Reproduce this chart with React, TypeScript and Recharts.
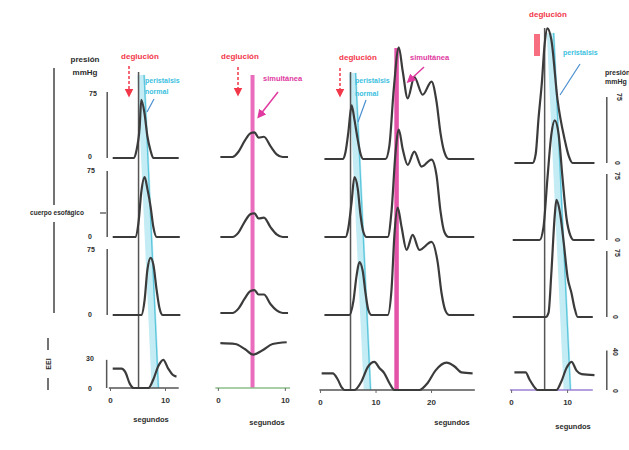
import React from "react";
import { LineChart, Line, XAxis, YAxis, ReferenceLine } from "recharts";

// pressure scale of the traces (pixels per mmHg)
const PX = 0.88;
const ROW_H = 170;
const LES_H = 55;

// ---- panel 1: normal swallow ----
const p1Ticks = [0, 10];
const p1T1 = [0.4, 4.2, 4.7, 5.3, 5.6, 6.2, 6.7, 7.3, 7.8, 12.4];
const p1V1 = [0, 0, 8, 35, 66, 50, 25, 8, 0, 0];
const p1T2 = [0.4, 4.5, 5.1, 5.6, 6.2, 6.7, 7.3, 7.8, 8.4, 12.6];
const p1V2 = [0, 0, 17, 51, 68, 55, 34, 11, 0, 0];
const p1T3 = [0.4, 5.6, 6.2, 6.7, 7.3, 7.8, 8.4, 8.9, 9.5, 12.7];
const p1V3 = [0, 0, 17, 51, 65, 57, 28, 8, 0, 0];
const p1TL = [0.4, 2.0, 2.7, 3.5, 4.2, 6.9, 7.8, 8.7, 9.6, 10.5, 11.3, 12.0];
const p1VL = [22, 22, 18, 5, 0, 0, 10, 25, 32, 22, 15, 13];
const p1Swallow = 5.1;
const p1Band = [5.6, 8.2];

// ---- panel 2: simultaneous contraction ----
const p2Ticks = [0, 10];
const p2T = [0.3, 2.1, 3.0, 3.9, 4.8, 5.4, 6.0, 6.8, 7.8, 8.7, 9.6, 10.4];
const p2V1 = [0, 0, 6, 18, 27, 28, 22, 23, 12, 3, 0, 0];
const p2V2 = [0, 0, 5, 17, 26, 27, 21, 22, 11, 3, 0, 0];
const p2V3 = [0, 0, 5, 16, 25, 26, 21, 21, 10, 3, 0, 0];
const p2TL = [0.3, 2.5, 4.0, 5.2, 6.6, 8.1, 10.2];
const p2VL = [51, 50, 44, 38, 43, 50, 52];
const p2Simult = 5.1;

// ---- panel 3: peristalsis followed by simultaneous contraction ----
const p3Ticks = [0, 10, 20];
const p3T1 = [0.7, 4.0, 4.5, 5.0, 5.6, 6.1, 6.7, 7.2, 7.7, 11.7, 12.4, 13.2, 14.1, 14.8, 15.7, 16.9, 18.4, 20.0, 20.9, 21.6, 22.3, 23.1, 27.7];
const p3V1 = [0, 0, 8, 30, 61, 45, 22, 6, 0, 0, 15, 80, 127, 100, 69, 93, 73, 88, 65, 30, 8, 0, 0];
const p3T2 = [0.7, 4.5, 5.0, 5.6, 6.1, 6.7, 7.2, 7.7, 8.3, 12.1, 12.8, 13.5, 14.1, 14.8, 15.7, 16.9, 18.2, 20.0, 20.9, 21.6, 22.3, 23.1, 27.7];
const p3V2 = [0, 0, 10, 40, 68, 55, 25, 6, 0, 0, 30, 95, 122, 100, 82, 97, 80, 88, 70, 30, 6, 0, 0];
const p3T3 = [0.7, 5.2, 5.9, 6.5, 7.0, 7.6, 8.1, 8.6, 9.2, 12.1, 12.8, 13.3, 13.9, 14.6, 15.5, 16.6, 17.8, 20.0, 21.1, 21.8, 22.5, 23.2, 27.7];
const p3V3 = [0, 0, 15, 45, 60, 50, 25, 6, 0, 0, 30, 90, 122, 100, 74, 91, 74, 83, 60, 25, 5, 0, 0];
const p3TL = [0.2, 2.2, 3.1, 3.8, 4.3, 6.1, 7.4, 8.5, 9.7, 10.6, 11.5, 12.4, 13.3, 17.8, 19.3, 20.7, 22.7, 24.1, 25.4, 27.4];
const p3VL = [19, 19, 12, 3, 0, 0, 10, 26, 32, 25, 19, 8, 0, 0, 8, 22, 31, 27, 20, 19];
const p3Swallow = 5.4;
const p3Simult = 13.7;
const p3Band = [5.8, 8.5];

// ---- panel 4: high amplitude peristalsis ----
const p4Ticks = [0, 10];
const p4T1 = [0.5, 3.75, 4.3, 4.8, 5.4, 5.9, 6.4, 7.1, 8.2, 9.5, 10.2, 10.9, 14.8];
const p4V1 = [0, 0, 10, 50, 91, 135, 153, 140, 72, 26, 8, 0, 0];
const p4T2 = [0.2, 5.0, 5.7, 6.4, 7.1, 7.7, 8.4, 9.1, 9.8, 10.5, 11.1, 14.8];
const p4V2 = [0, 0, 15, 70, 120, 136, 120, 70, 25, 5, 0, 0];
const p4T3 = [0.2, 6.1, 6.6, 7.1, 7.7, 8.0, 8.6, 9.3, 10.0, 10.7, 11.25, 11.8, 14.5];
const p4V3 = [0, 0, 5, 50, 115, 133, 120, 85, 45, 27, 10, 0, 0];
const p4TL = [0.5, 2.5, 3.2, 4.1, 4.6, 8.0, 8.9, 9.8, 10.7, 11.6, 12.5, 14.8];
const p4VL = [20, 20, 12, 3, 0, 0, 10, 25, 32, 22, 18, 17];
const p4Swallow = 5.9;
const p4Band = [7.0, 10.0];

type Panel = { x0: number; pps: number; tMin: number; tMax: number; ticks: number[] };
const P1: Panel = { x0: 110, pps: 5.5, tMin: -1, tMax: 13, ticks: p1Ticks };
const P2: Panel = { x0: 218, pps: 6.7, tMin: -0.8, tMax: 10.8, ticks: p2Ticks };
const P3: Panel = { x0: 321, pps: 5.55, tMin: -1, tMax: 28.2, ticks: p3Ticks };
const P4: Panel = { x0: 512, pps: 5.6, tMin: -1, tMax: 17.5, ticks: p4Ticks };

const FONT = '"Liberation Sans", Arial, sans-serif';
const INK = "#3b3b3b";

const leftOf = (p: Panel) => p.x0 + p.tMin * p.pps;
const widthOf = (p: Panel) => (p.tMax - p.tMin) * p.pps;

function Trace({ p, base, t, v, les = false, bracket, axis, axisColor }: any) {
  const h = les ? LES_H : ROW_H;
  const data = t.map((x: number, i: number) => ({ t: x, v: v[i] }));
  return (
    <div style={{ position: "absolute", left: leftOf(p), top: base - h }}>
      <LineChart
        width={widthOf(p)}
        height={h + (les ? 24 : 3)}
        data={data}
        margin={{ top: 0, right: 0, bottom: les ? 0 : 3, left: 0 }}
      >
        <XAxis
          type="number"
          dataKey="t"
          domain={[p.tMin, p.tMax]}
          hide={!les}
          ticks={p.ticks}
          interval={0}
          axisLine={false}
          tickSize={3}
          tickMargin={6}
          tickLine={{ stroke: "#666" }}
          height={24}
          tick={{ fontSize: 8, fontWeight: 700, fill: "#333", fontFamily: FONT }}
        />
        <YAxis hide domain={[0, h / PX]} />
        {bracket && (
          <ReferenceLine
            segment={[{ x: bracket[0], y: 0 }, { x: bracket[0], y: bracket[1] }]}
            stroke="#555"
            strokeWidth={1.5}
          />
        )}
        {axis && (
          <ReferenceLine
            segment={[{ x: axis[0], y: 0 }, { x: axis[1], y: 0 }]}
            stroke={axisColor}
            strokeWidth={1.6}
          />
        )}
        <Line
          dataKey="v"
          type="monotone"
          stroke={INK}
          strokeWidth={2.2}
          dot={false}
          isAnimationActive={false}
        />
      </LineChart>
    </div>
  );
}

function Overlay({ p, top, bottom, lines, band, bandTop }: any) {
  const h = bottom - top;
  const fr = (y: number) => (bottom - y) / h;
  return (
    <div style={{ position: "absolute", left: leftOf(p), top }}>
      <LineChart
        width={widthOf(p)}
        height={h}
        data={[{ t: p.tMin, f: 0 }, { t: p.tMax, f: 1 }]}
        margin={{ top: 0, right: 0, bottom: 0, left: 0 }}
      >
        <XAxis type="number" dataKey="t" domain={[p.tMin, p.tMax]} hide />
        <YAxis hide domain={[0, 1]} />
        {/* invisible series so the reference lines get their scales */}
        <Line dataKey="f" stroke="none" dot={false} isAnimationActive={false} />
        {band && (
          <ReferenceLine
            segment={[{ x: band[0], y: fr(bandTop) }, { x: band[1], y: 0 }]}
            stroke="#c4ecf5"
            strokeWidth={8}
          />
        )}
        {band && (
          <ReferenceLine
            segment={[{ x: band[0] + 0.5, y: fr(bandTop) }, { x: band[1] + 0.5, y: 0 }]}
            stroke="#5cc6dc"
            strokeWidth={1.3}
          />
        )}
        {lines.map((l: any, i: number) => (
          <ReferenceLine
            key={i}
            segment={[{ x: l.t, y: fr(l.y) }, { x: l.t, y: 0 }]}
            stroke={l.c}
            strokeWidth={l.w}
            strokeOpacity={l.o ?? 1}
          />
        ))}
      </LineChart>
    </div>
  );
}

const Txt = ({ x, y, c = "#2b2b2b", s = 8, rot = 0, left = false, children }: any) => (
  <div
    style={{
      position: "absolute",
      left: x,
      top: y,
      transform: `translate(${left ? "0" : "-50%"}, -50%) rotate(${rot}deg)`,
      color: c,
      fontSize: s,
      fontWeight: 700,
      whiteSpace: "nowrap",
      lineHeight: 1,
      fontFamily: FONT,
    }}
  >
    {children}
  </div>
);

const RED = "#f2374a";
const CYAN = "#3bbfe0";
const MAG = "#e0399f";

export default function App() {
  return (
    <div
      style={{
        position: "absolute",
        left: 0,
        top: 0,
        width: 629,
        height: 450,
        overflow: "hidden",
        background: "#fff",
      }}
    >
      {/* event lines and peristaltic bands */}
      <Overlay p={P1} top={72} bottom={388} band={p1Band} bandTop={75}
        lines={[{ t: p1Swallow, y: 72, c: "#555", w: 1.5 }]} />
      <Overlay p={P2} top={75} bottom={388}
        lines={[{ t: p2Simult, y: 75, c: "#e85cb6", w: 4, o: 0.9 }]} />
      <Overlay p={P3} top={45} bottom={390} band={p3Band} bandTop={73}
        lines={[
          { t: p3Swallow, y: 72, c: "#555", w: 1.5 },
          { t: p3Simult, y: 48, c: "#e0409f", w: 4.5, o: 0.9 },
        ]} />
      <Overlay p={P4} top={28} bottom={390} band={p4Band} bandTop={33}
        lines={[{ t: p4Swallow, y: 28, c: "#555", w: 1.5 }]} />

      {/* panel 1 */}
      <Trace p={P1} base={158} t={p1T1} v={p1V1} bracket={[-0.6, 75]} />
      <Trace p={P1} base={237} t={p1T2} v={p1V2} bracket={[-0.6, 75]} />
      <Trace p={P1} base={315} t={p1T3} v={p1V3} bracket={[-0.6, 75]} />
      <Trace p={P1} base={388} t={p1TL} v={p1VL} les bracket={[-0.7, 32]} axis={[-0.3, 12.4]} axisColor="#555" />

      {/* panel 2 */}
      <Trace p={P2} base={157} t={p2T} v={p2V1} />
      <Trace p={P2} base={237} t={p2T} v={p2V2} />
      <Trace p={P2} base={313} t={p2T} v={p2V3} />
      <Trace p={P2} base={388} t={p2TL} v={p2VL} les axis={[-0.45, 10.7]} axisColor="#8cbf8c" />

      {/* panel 3 */}
      <Trace p={P3} base={159} t={p3T1} v={p3V1} />
      <Trace p={P3} base={237} t={p3T2} v={p3V2} />
      <Trace p={P3} base={315} t={p3T3} v={p3V3} />
      <Trace p={P3} base={390} t={p3TL} v={p3VL} les axis={[-0.2, 27.8]} axisColor="#555" />

      {/* panel 4 */}
      <Trace p={P4} base={163} t={p4T1} v={p4V1} bracket={[17, 75]} />
      <Trace p={P4} base={240} t={p4T2} v={p4V2} bracket={[17, 75]} />
      <Trace p={P4} base={317} t={p4T3} v={p4V3} bracket={[17, 75]} />
      <Trace p={P4} base={390} t={p4TL} v={p4VL} les bracket={[17, 45]} axis={[-0.3, 14.5]} axisColor="#9b7fd4" />

      {/* arrows and brackets */}
      <svg width={629} height={450} style={{ position: "absolute", left: 0, top: 0 }}>
        <defs>
          <marker id="ar" markerWidth="6" markerHeight="6" refX="3" refY="3" orient="auto">
            <path d="M0,0 L6,3 L0,6 z" fill={RED} />
          </marker>
          <marker id="am" markerWidth="6" markerHeight="6" refX="3" refY="3" orient="auto">
            <path d="M0,0 L6,3 L0,6 z" fill={MAG} />
          </marker>
        </defs>
        <line x1={129} y1={66} x2={129} y2={93} stroke={RED} strokeWidth={1.5} strokeDasharray="3 2" markerEnd="url(#ar)" />
        <line x1={238} y1={67} x2={238} y2={92} stroke={RED} strokeWidth={1.5} strokeDasharray="3 2" markerEnd="url(#ar)" />
        <line x1={340} y1={68} x2={340} y2={93} stroke={RED} strokeWidth={1.5} strokeDasharray="3 2" markerEnd="url(#ar)" />
        <rect x={534} y={34} width={6} height={22} fill="#f4556a" opacity={0.85} />
        <line x1={278} y1={92} x2={260} y2={115} stroke={MAG} strokeWidth={1.5} markerEnd="url(#am)" />
        <line x1={424} y1={67} x2={410} y2={80} stroke={MAG} strokeWidth={1.5} markerEnd="url(#am)" />
        <line x1={154} y1={99} x2={147} y2={112} stroke="#4a8fd0" strokeWidth={1.2} />
        <line x1={366} y1={100} x2={358} y2={122} stroke="#4a8fd0" strokeWidth={1.2} />
        <line x1={580} y1={64} x2={560} y2={95} stroke="#4a8fd0" strokeWidth={1.2} />
        {/* body / LES brackets */}
        <line x1={54} y1={68} x2={54} y2={205} stroke="#444" strokeWidth={1.5} />
        <line x1={54} y1={222} x2={54} y2={313} stroke="#444" strokeWidth={1.5} />
        <line x1={100} y1={213} x2={106} y2={213} stroke="#444" strokeWidth={1.2} />
        <line x1={48} y1={338} x2={48} y2={350} stroke="#444" strokeWidth={1.5} />
        <line x1={48} y1={378} x2={48} y2={390} stroke="#444" strokeWidth={1.5} />
      </svg>

      {/* left axis labels */}
      <Txt x={85} y={60}>presión</Txt>
      <Txt x={85} y={73}>mmHg</Txt>
      <Txt x={93} y={93} s={7}>75</Txt>
      <Txt x={90} y={156} s={7}>0</Txt>
      <Txt x={91} y={170} s={7}>75</Txt>
      <Txt x={90} y={236} s={7}>0</Txt>
      <Txt x={91} y={249} s={7}>75</Txt>
      <Txt x={90} y={314} s={7}>0</Txt>
      <Txt x={90} y={358} s={7}>30</Txt>
      <Txt x={90} y={388} s={7}>0</Txt>
      <Txt x={57} y={213} s={6.5}>cuerpo esofágico</Txt>
      <Txt x={48} y={364} s={7} rot={-90}>EEI</Txt>

      {/* right axis labels */}
      <Txt x={605} y={72} s={7} left>presión</Txt>
      <Txt x={605} y={81} s={7} left>mmHg</Txt>
      <Txt x={619} y={97} s={7} rot={90}>75</Txt>
      <Txt x={617} y={163} s={7} rot={90}>0</Txt>
      <Txt x={617} y={176} s={7} rot={90}>75</Txt>
      <Txt x={617} y={240} s={7} rot={90}>0</Txt>
      <Txt x={617} y={253} s={7} rot={90}>75</Txt>
      <Txt x={615} y={317} s={7} rot={90}>0</Txt>
      <Txt x={615} y={352} s={7} rot={90}>40</Txt>
      <Txt x={615} y={391} s={7} rot={90}>0</Txt>

      {/* event labels */}
      <Txt x={140} y={57} c={RED}>deglución</Txt>
      <Txt x={145} y={80} c={CYAN} s={7} left>peristalsis</Txt>
      <Txt x={145} y={91} c={CYAN} s={7} left>normal</Txt>
      <Txt x={240} y={57} c={RED}>deglución</Txt>
      <Txt x={263} y={79} c={MAG} s={7.5} left>simultánea</Txt>
      <Txt x={358} y={58} c={RED}>deglución</Txt>
      <Txt x={355} y={80} c={CYAN} s={7} left>peristalsis</Txt>
      <Txt x={355} y={93} c={CYAN} s={7} left>normal</Txt>
      <Txt x={410} y={58} c={MAG} s={7.5} left>simultánea</Txt>
      <Txt x={548} y={15} c={RED}>deglución</Txt>
      <Txt x={563} y={52} c={CYAN} s={7} left>peristalsis</Txt>

      {/* x axis titles */}
      <Txt x={151} y={420} s={7.5}>segundos</Txt>
      <Txt x={267} y={423} s={7.5}>segundos</Txt>
      <Txt x={452} y={423} s={7.5}>segundos</Txt>
      <Txt x={573} y={427} s={7.5}>segundos</Txt>
    </div>
  );
}
